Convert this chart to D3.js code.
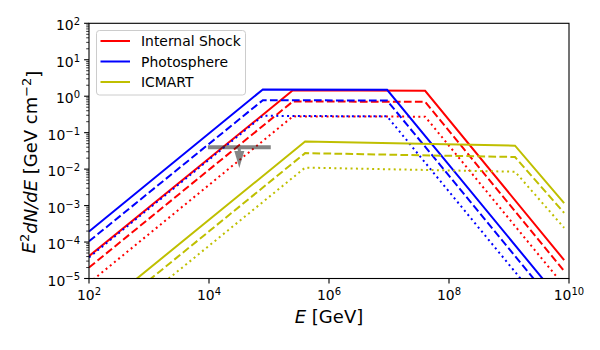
<!DOCTYPE html>
<html>
<head>
<meta charset="utf-8">
<script src="https://d3js.org/d3.v7.min.js"></script>
<style>
  body { margin: 0; background: #fff; }
  text { font-family: "DejaVu Sans", sans-serif; fill: #000; }
</style>
</head>
<body>
<svg height=350 width=600></svg>
<script>
// energies (GeV) at the corners of each spectrum
const isE = [1e2, 2.5e5, 4.0e7, 8.3e9]
const phE = [1e2, 7.9e4, 9.3e6, 8.3e9]
const icE = [1e2, 4.0e5, 1.26e9, 8.3e9]
// E^2 dN/dE (GeV cm^-2): solid, dashed, dotted
const isSolid  = [4.1e-5, 1.45, 1.41, 3.2e-5]
const isDashed = [2.0e-5, 0.72, 0.70, 1.6e-5]
const isDotted = [7.5e-6, 0.28, 0.275, 6.3e-6]
const phSolid  = [1.95e-4, 1.54, 1.50, 1.9e-6]
const phDashed = [1.05e-4, 0.78, 0.76, 9.5e-7]
const phDotted = [3.8e-5, 0.29, 0.28, 3.5e-7]
const icSolid  = [8.5e-7, 0.057, 0.044, 1.17e-3]
const icDashed = [4.1e-7, 0.0275, 0.0215, 6.3e-4]
const icDotted = [1.66e-7, 0.011, 0.0085, 2.45e-4]
// upper limit
const ulE = [9.6e3, 3.2e4, 1.07e5]
const ulF = 0.04
const ulTip = 0.0107

const legendNames = ["Internal Shock", "Photosphere", "ICMART"]
const xTicks = [1e2, 1e4, 1e6, 1e8, 1e10]
const yTicks = [1e-5, 1e-4, 1e-3, 1e-2, 1e-1, 1e0, 1e1, 1e2]

const models = [
  {E: isE, color: "#ff0000", lines: [isSolid, isDashed, isDotted]},
  {E: phE, color: "#0000ff", lines: [phSolid, phDashed, phDotted]},
  {E: icE, color: "#bfbf00", lines: [icSolid, icDashed, icDotted]}
]
const dashes = [null, "7.7,3.3", "2,3.4"]

const svg = d3.select("svg")
const x = d3.scaleLog().domain([1e2, 1e10]).range([89, 569])
const y = d3.scaleLog().domain([1e-5, 1e2]).range([278.5, 23.3])

svg.append("defs").append("clipPath").attr("id", "clip")
  .append("rect")
    .attr("x", 89).attr("y", 23.3)
    .attr("width", 480).attr("height", 255.2)

const g = svg.append("g").attr("clip-path", "url(#clip)")
const line = d3.line().x(d => x(d[0])).y(d => y(d[1]))

models.forEach(m => {
  m.lines.forEach((vals, i) => {
    g.append("path")
      .datum(m.E.map((e, j) => [e, vals[j]]))
      .attr("fill", "none")
      .attr("stroke", m.color)
      .attr("stroke-width", 2)
      .attr("stroke-dasharray", dashes[i])
      .attr("d", line)
  })
})

// upper limit marker
const ul = svg.append("g").attr("opacity", 0.55)
ul.append("line")
  .attr("x1", x(ulE[0])).attr("x2", x(ulE[2]))
  .attr("y1", y(ulF)).attr("y2", y(ulF))
  .attr("stroke", "#222").attr("stroke-width", 4)
ul.append("line")
  .attr("x1", x(ulE[1])).attr("x2", x(ulE[1]))
  .attr("y1", y(ulF)).attr("y2", y(ulTip) - 8)
  .attr("stroke", "#222").attr("stroke-width", 3)
ul.append("path")
  .attr("d", `M${x(ulE[1]) - 5},${y(ulTip) - 17} L${x(ulE[1]) + 5},${y(ulTip) - 17} L${x(ulE[1])},${y(ulTip)} Z`)
  .attr("fill", "#222")

// frame
svg.append("rect")
  .attr("x", 89).attr("y", 23.3)
  .attr("width", 480).attr("height", 255.2)
  .attr("fill", "none").attr("stroke", "#000").attr("stroke-width", 1.1)

function sup(sel, d) {
  const p = Math.round(Math.log10(d))
  sel.append("tspan").text("10")
  sel.append("tspan").attr("dy", "-0.5em").attr("font-size", "0.72em")
    .text(p < 0 ? "\u2212" + (-p) : p)
}

// x axis
const xa = svg.append("g")
xTicks.forEach(t => {
  xa.append("line").attr("x1", x(t)).attr("x2", x(t))
    .attr("y1", 278.5).attr("y2", 283.4).attr("stroke", "#000").attr("stroke-width", 1.1)
  xa.append("text").attr("x", x(t)).attr("y", 300)
    .attr("text-anchor", "middle").attr("font-size", 13.9)
    .call(sup, t)
})

// y axis
const ya = svg.append("g")
yTicks.forEach(t => {
  ya.append("line").attr("x1", 84.1).attr("x2", 89)
    .attr("y1", y(t)).attr("y2", y(t)).attr("stroke", "#000").attr("stroke-width", 1.1)
  ya.append("text").attr("x", 80).attr("y", y(t) + 7)
    .attr("text-anchor", "end").attr("font-size", 13.9)
    .call(sup, t)
})
d3.range(-5, 2).forEach(p => {
  d3.range(2, 10).forEach(k => {
    const v = k * Math.pow(10, p)
    ya.append("line").attr("x1", 86.2).attr("x2", 89)
      .attr("y1", y(v)).attr("y2", y(v)).attr("stroke", "#000").attr("stroke-width", 0.8)
  })
})

// axis labels
const xl = svg.append("text").attr("x", 329).attr("y", 323)
  .attr("text-anchor", "middle").attr("font-size", 18)
xl.append("tspan").attr("font-style", "italic").text("E")
xl.append("tspan").text(" [GeV]")

const yl = svg.append("text")
  .attr("transform", "translate(35,162) rotate(-90)")
  .attr("text-anchor", "middle").attr("font-size", 18)
yl.append("tspan").attr("font-style", "italic").text("E")
yl.append("tspan").attr("dy", "-0.45em").attr("font-size", "0.72em").text("2")
yl.append("tspan").attr("dy", "0.45em").attr("font-style", "italic").text("dN/dE")
yl.append("tspan").text(" [GeV cm")
yl.append("tspan").attr("dy", "-0.45em").attr("font-size", "0.72em").text("\u22122")
yl.append("tspan").attr("dy", "0.45em").text("]")

// legend
const lg = svg.append("g")
lg.append("rect")
  .attr("x", 96.5).attr("y", 30.5).attr("width", 149).attr("height", 64.5)
  .attr("rx", 3).attr("fill", "#fff").attr("fill-opacity", 0.8)
  .attr("stroke", "#ccc").attr("stroke-width", 1)
legendNames.forEach((n, i) => {
  const yy = 41 + i * 20.5
  lg.append("line").attr("x1", 100.5).attr("x2", 130)
    .attr("y1", yy).attr("y2", yy)
    .attr("stroke", models[i].color).attr("stroke-width", 2)
  lg.append("text").attr("x", 141).attr("y", yy + 5)
    .attr("font-size", 13.9).text(n)
})
</script>
</body>
</html>
